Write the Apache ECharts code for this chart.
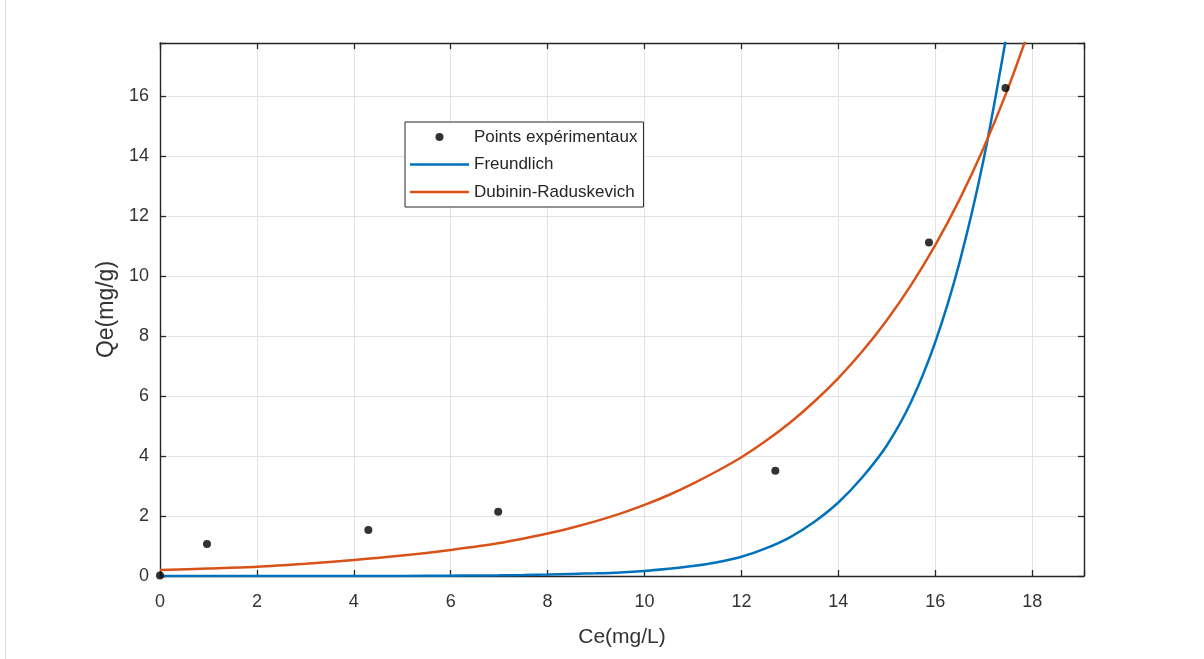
<!DOCTYPE html>
<html>
<head>
<meta charset="utf-8">
<script src="https://cdn.jsdelivr.net/npm/echarts@6/dist/echarts.min.js"></script>
<style>
  html, body { margin: 0; padding: 0; background: #ffffff; }
  #chart { width: 1204px; height: 659px; }
</style>
</head>
<body>
<div id="chart"></div>
<script>
// Experimental points
const ceExp = [0, 0.97, 4.3, 6.98, 12.7, 15.87, 17.45];
const qeExp = [0.02, 1.07, 1.53, 2.14, 3.51, 11.12, 16.27];

// Freundlich model curve
const ceFreundlich = [0, 1, 2, 3, 4, 5, 6, 6.5, 7, 7.5, 8, 8.5, 9, 9.5, 10, 10.5, 11, 11.5, 12, 12.5, 13, 13.5, 14, 14.5, 15, 15.5, 16, 16.5, 17, 17.5];
const qeFreundlich = [0, 0, 0, 0, 0.001, 0.003, 0.01, 0.016, 0.024, 0.035, 0.05, 0.07, 0.09, 0.12, 0.17, 0.24, 0.33, 0.46, 0.64, 0.92, 1.29, 1.8, 2.45, 3.3, 4.35, 5.8, 7.8, 10.45, 13.9, 18.3];

// Dubinin-Raduskevich model curve
const ceDR = [0, 1, 2, 3, 4, 5, 6, 7, 8, 8.5, 9, 9.5, 10, 10.5, 11, 11.5, 12, 12.5, 13, 13.5, 14, 14.5, 15, 15.5, 16, 16.5, 17, 17.5, 18];
const qeDR = [0.2, 0.25, 0.31, 0.41, 0.53, 0.68, 0.87, 1.1, 1.42, 1.61, 1.83, 2.08, 2.37, 2.7, 3.08, 3.5, 3.96, 4.5, 5.11, 5.81, 6.6, 7.5, 8.53, 9.7, 11.03, 12.55, 14.28, 16.25, 18.5];

const xTicks = [0, 2, 4, 6, 8, 10, 12, 14, 16, 18];
const yTicks = [0, 2, 4, 6, 8, 10, 12, 14, 16];

const seriesNames = ['Points expérimentaux', 'Freundlich', 'Dubinin-Raduskevich'];

const zip = (xs, ys) => xs.map((x, i) => [x, ys[i]]);

const FONT = 'Liberation Sans';
const AXIS_COLOR = '#262626';
const TEXT_COLOR = '#333333';
const GRID_COLOR = '#e4e4e4';

const chart = echarts.init(document.getElementById('chart'), null, { renderer: 'canvas' });

const commonX = { type: 'value', min: 0, max: 19.07, interval: 2, gridIndex: 0 };
const commonY = { type: 'value', min: 0, max: 17.77, interval: 2, gridIndex: 0 };

const option = {
  backgroundColor: '#ffffff',
  animation: false,
  grid: { left: 160, right: 120, top: 43, bottom: 83, containLabel: false },
  graphic: [{
    type: 'line', shape: { x1: 5.5, y1: 0, x2: 5.5, y2: 659 },
    style: { stroke: '#dddddd', lineWidth: 1 }, silent: true
  }],
  legend: {
    orient: 'vertical',
    left: 405, top: 122,
    padding: [6, 6, 6, 5],
    itemWidth: 59, itemHeight: 8, itemGap: 9.5,
    backgroundColor: '#ffffff',
    borderColor: '#262626', borderWidth: 1,
    textStyle: { fontFamily: FONT, fontSize: 17, color: '#262626', lineHeight: 18 },
    data: [
      { name: seriesNames[0], icon: 'circle' },
      { name: seriesNames[1], icon: 'path://M0,0H59V2.5H0Z' },
      { name: seriesNames[2], icon: 'path://M0,0H59V2.5H0Z' }
    ]
  },
  xAxis: [
    Object.assign({}, commonX, {
      position: 'bottom',
      name: 'Ce(mg/L)', nameLocation: 'middle', nameGap: 51,
      nameTextStyle: { fontFamily: FONT, fontSize: 21, color: TEXT_COLOR },
      axisLine: { show: true, onZero: false, lineStyle: { color: AXIS_COLOR, width: 1.4 } },
      axisTick: { show: true, inside: true, length: 6, lineStyle: { color: AXIS_COLOR, width: 1.3 } },
      axisLabel: {
        show: true, margin: 17, fontFamily: FONT, fontSize: 18, color: TEXT_COLOR,
        formatter: v => (xTicks.indexOf(v) >= 0 ? String(v) : '')
      },
      splitLine: { show: true, lineStyle: { color: GRID_COLOR, width: 1 } }
    }),
    Object.assign({}, commonX, {
      position: 'top',
      axisLine: { show: true, onZero: false, lineStyle: { color: AXIS_COLOR, width: 1.4 } },
      axisTick: { show: true, inside: true, length: 6, lineStyle: { color: AXIS_COLOR, width: 1.3 } },
      axisLabel: { show: false },
      splitLine: { show: false }
    })
  ],
  yAxis: [
    Object.assign({}, commonY, {
      position: 'left',
      name: 'Qe(mg/g)', nameLocation: 'middle', nameGap: 38, nameRotate: 90,
      nameTextStyle: { fontFamily: FONT, fontSize: 23, color: TEXT_COLOR },
      axisLine: { show: true, onZero: false, lineStyle: { color: AXIS_COLOR, width: 1.4 } },
      axisTick: { show: true, inside: true, length: 6, lineStyle: { color: AXIS_COLOR, width: 1.3 } },
      axisLabel: {
        show: true, margin: 11, fontFamily: FONT, fontSize: 18, color: TEXT_COLOR,
        formatter: v => (yTicks.indexOf(v) >= 0 ? String(v) : '')
      },
      splitLine: { show: true, lineStyle: { color: GRID_COLOR, width: 1 } }
    }),
    Object.assign({}, commonY, {
      position: 'right',
      axisLine: { show: true, onZero: false, lineStyle: { color: AXIS_COLOR, width: 1.4 } },
      axisTick: { show: true, inside: true, length: 6, lineStyle: { color: AXIS_COLOR, width: 1.3 } },
      axisLabel: { show: false },
      splitLine: { show: false }
    })
  ],
  series: [
    {
      name: seriesNames[0], type: 'scatter', xAxisIndex: 0, yAxisIndex: 0,
      data: zip(ceExp, qeExp), symbol: 'circle', symbolSize: 8,
      itemStyle: { color: '#000000' }, z: 3
    },
    {
      name: seriesNames[1], type: 'line', xAxisIndex: 0, yAxisIndex: 0,
      data: zip(ceFreundlich, qeFreundlich), showSymbol: false, symbol: 'none',
      smooth: 0.3, clip: true,
      lineStyle: { color: '#0072BD', width: 2.5 }, itemStyle: { color: '#0072BD' }, z: 2
    },
    {
      name: seriesNames[2], type: 'line', xAxisIndex: 0, yAxisIndex: 0,
      data: zip(ceDR, qeDR), showSymbol: false, symbol: 'none',
      smooth: 0.3, clip: true,
      lineStyle: { color: '#D95319', width: 2.5 }, itemStyle: { color: '#D95319' }, z: 2
    }
  ]
};

chart.setOption(option);
</script>
</body>
</html>
